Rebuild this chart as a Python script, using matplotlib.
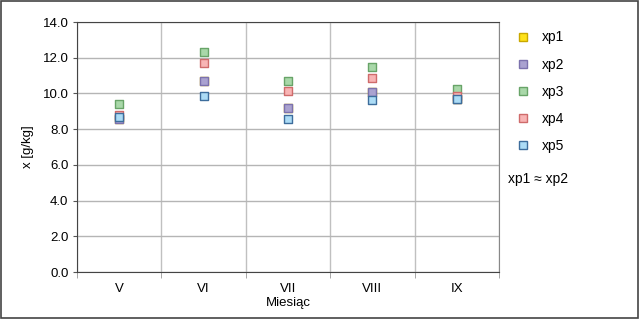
import numpy as np
import matplotlib.pyplot as plt
from matplotlib.lines import Line2D
from matplotlib.patches import Rectangle

plt.rcParams['font.family'] = ['Liberation Sans', 'DejaVu Sans']
plt.rcParams['font.size'] = 9.5

# -----------------------------
# Data
# -----------------------------
months = ["V", "VI", "VII", "VIII", "IX"]
xp1 = [8.55, 10.68, 9.16, 10.08, 9.70]
xp2 = [8.55, 10.68, 9.16, 10.08, 9.70]
xp3 = [9.39, 12.32, 10.68, 11.46, 10.26]
xp4 = [8.80, 11.70, 10.13, 10.86, 9.85]
xp5 = [8.71, 9.85, 8.57, 9.63, 9.67]

series = [
    ("xp1", xp1, "#ffe21a", "#c9a800"),
    ("xp2", xp2, "#aaa2d0", "#7c72ad"),
    ("xp3", xp3, "#a9d8a9", "#68a468"),
    ("xp4", xp4, "#f8b4b4", "#cf6b6b"),
    ("xp5", xp5, "#acdcf6", "#3d6d9c"),
]

# -----------------------------
# Plot
# -----------------------------
fig = plt.figure(figsize=(6.4, 3.19), dpi=100)
ax = fig.add_axes([0.120, 0.147, 0.660, 0.784])

x = np.arange(len(months))
for name, vals, fc, ec in series:
    ax.scatter(x, vals, marker="s", s=30, facecolor=fc, edgecolor=ec,
               linewidth=1.0, zorder=3, label=name)

ax.set_xlim(-0.5, len(months) - 0.5)
ax.set_ylim(0, 14)
ax.set_yticks(np.arange(0, 14.1, 2))
ax.set_yticklabels([f"{v:.1f}" for v in np.arange(0, 14.1, 2)])
ax.set_xticks(x)
ax.set_xticklabels(months)
ax.tick_params(axis="x", length=0, pad=8)
ax.set_xticks(np.arange(-0.5, len(months)), minor=True)
ax.tick_params(axis="x", which="minor", length=4, color="#999999")
ax.tick_params(axis="y", length=3, color="#555555", pad=3)
ax.grid(True, axis="y", color="#b5b5b5", linewidth=1.0)
ax.grid(True, axis="x", which="minor", color="#c0c0c0", linewidth=1.0)
for side in ["left", "bottom", "top"]:
    ax.spines[side].set_color("#444444")
ax.spines["right"].set_color("#888888")
ax.set_axisbelow(True)

ax.set_ylabel("x [g/kg]", labelpad=6)
ax.set_xlabel("Miesiąc", labelpad=1)

# Legend
handles = [Line2D([], [], marker="s", linestyle="", markersize=5.5,
                  markerfacecolor=fc, markeredgecolor=ec, markeredgewidth=1.0)
           for _, _, fc, ec in series]
fig.legend(handles, [s[0] for s in series], loc="upper left",
           bbox_to_anchor=(0.797, 0.922), frameon=False,
           handlelength=1.0, handletextpad=0.9, labelspacing=0.95,
           borderaxespad=0, fontsize=10)
fig.text(0.794, 0.44, "xp1 \u2248 xp2", fontsize=10, va="center")

# Outer border
fig.patches.append(Rectangle((0.002, 0.003), 0.995, 0.994, transform=fig.transFigure,
                             fill=False, edgecolor="#444444", linewidth=1.2))

fig.savefig("out.png", dpi=100)
